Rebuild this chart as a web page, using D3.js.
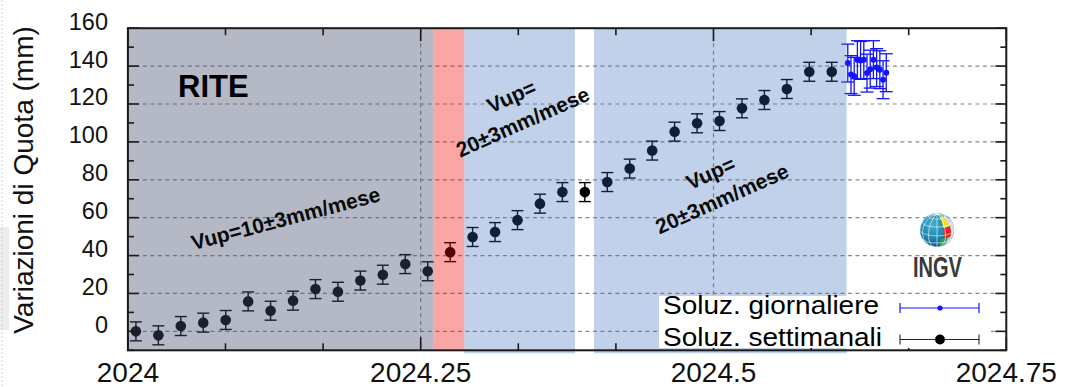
<!DOCTYPE html>
<html>
<head>
<meta charset="utf-8">
<script src="https://cdn.jsdelivr.net/npm/d3@7"></script>
<style>
  html, body { margin: 0; padding: 0; background: #fff; }
  svg { display: block; font-family: "Liberation Sans", Arial, Helvetica, sans-serif; }
</style>
</head>
<body>
<svg id="chart" width="1065" height="387"></svg>
<script>
// ---- GNSS vertical displacement, station RITE ----
const station = "RITE";

// weekly solutions (date, uplift mm, 1-sigma mm)
const weekDates = ["2024-01-03","2024-01-10","2024-01-17","2024-01-24","2024-01-31",
  "2024-02-07","2024-02-14","2024-02-21","2024-02-28","2024-03-06","2024-03-13",
  "2024-03-20","2024-03-27","2024-04-03","2024-04-10","2024-04-17","2024-04-24",
  "2024-05-01","2024-05-08","2024-05-15","2024-05-22","2024-05-29","2024-06-05",
  "2024-06-12","2024-06-19","2024-06-26","2024-07-03","2024-07-10","2024-07-17",
  "2024-07-24","2024-07-31","2024-08-07"];
const weekUp = [0.0, -2.1, 2.8, 4.6, 6.0, 15.8, 10.9, 16.2, 22.3, 20.9, 26.8,
  29.9, 35.5, 31.7, 41.8, 49.8, 52.4, 58.7, 67.4, 73.5, 73.5, 78.8, 85.9,
  95.4, 105.4, 109.8, 111.0, 117.7, 122.1, 127.9, 137.0, 137.0];
const weekErr = [5, 5, 5, 5, 5, 5, 5, 5, 5, 5, 5, 5, 5, 5, 5, 5, 5,
  5, 5, 5, 5, 5, 5, 5, 5, 5, 5, 5, 5, 5, 5, 5];

// daily solutions
const dayDates = ["2024-08-12","2024-08-13","2024-08-14","2024-08-15","2024-08-16",
  "2024-08-17","2024-08-18","2024-08-19","2024-08-20","2024-08-21","2024-08-22",
  "2024-08-23","2024-08-24"];
const dayUp = [141.6, 135.5, 134.6, 143.4, 143.0, 143.4, 136.3, 138.4, 143.4,
  139.2, 138.1, 132.8, 136.5];
const dayErr = [10, 10, 10, 10, 10, 10, 10, 10, 10, 10, 10, 10, 10];

// deformation phases (decimal years)
const phaseFrom = [2024.0000, 2024.2608, 2024.2872, 2024.3980];
const phaseTo   = [2024.2608, 2024.2872, 2024.3817, 2024.6137];
const phaseKind = ["slow", "jump", "fast", "fast"];

// axis ticks
const xTicks = [2024, 2024.25, 2024.5, 2024.75];
const xTickLabels = ["2024", "2024.25", "2024.5", "2024.75"];
const yTicks = [0, 20, 40, 60, 80, 100, 120, 140, 160];

// rate annotations
const rateText = [["Vup=10±3mm/mese"], ["Vup=", "20±3mm/mese"], ["Vup=", "20±3mm/mese"]];
const rateAt = [[2024.1363, 55.9], [2024.3397, 107.0], [2024.5098, 66.5]];

const legendLabels = ["Soluz. giornaliere", "Soluz. settimanali"];

// ---- helpers ----
const dayMs = 86400000;
function decYear(s) {
  const t = Date.parse(s + "T12:00:00Z");
  const y0 = Date.UTC(2024, 0, 1);
  return 2024 + (t - y0) / (365.25 * dayMs);
}
const weekly = weekDates.map((d, i) => ({ t: decYear(d), v: weekUp[i], e: weekErr[i] }));
const daily = dayDates.map((d, i) => ({ t: decYear(d), v: dayUp[i], e: dayErr[i] }));

// ---- layout ----
const L = 127.9, R = 1006.3, T = 28.2, B = 350.3;
const x = d3.scaleLinear().domain([2024, 2024.75]).range([L, R]);
const y = d3.scaleLinear().domain([-10, 160]).range([B, T]);

const svg = d3.select("#chart");

// left page edge
svg.append("rect").attr("x", 0).attr("y", 227).attr("width", 9).attr("height", 103).attr("fill", "#ececec");
svg.append("line").attr("x1", 2).attr("x2", 2).attr("y1", 0).attr("y2", 387)
  .attr("stroke", "#d0d0d0").attr("stroke-width", 1).attr("stroke-dasharray", "2,2");

// grid
const grid = svg.append("g").attr("stroke", "#8a8a8a").attr("stroke-width", 1.2)
  .attr("stroke-dasharray", "4,3.5");
yTicks.filter(v => v < 160).forEach(v => {
  grid.append("line").attr("x1", L).attr("x2", R).attr("y1", y(v)).attr("y2", y(v));
});
xTicks.filter(v => v > 2024 && v < 2024.75).forEach(v => {
  grid.append("line").attr("x1", x(v)).attr("x2", x(v)).attr("y1", T).attr("y2", B);
});

// error bars + markers
function drawSeries(data, color, width, cap, r) {
  const g = svg.append("g");
  const eb = g.selectAll("g.eb").data(data).join("g").attr("stroke", color).attr("stroke-width", width);
  eb.append("line").attr("x1", d => x(d.t)).attr("x2", d => x(d.t))
    .attr("y1", d => y(d.v - d.e)).attr("y2", d => y(d.v + d.e));
  eb.append("line").attr("x1", d => x(d.t) - cap).attr("x2", d => x(d.t) + cap)
    .attr("y1", d => y(d.v + d.e)).attr("y2", d => y(d.v + d.e));
  eb.append("line").attr("x1", d => x(d.t) - cap).attr("x2", d => x(d.t) + cap)
    .attr("y1", d => y(d.v - d.e)).attr("y2", d => y(d.v - d.e));
  g.selectAll("circle").data(data).join("circle")
    .attr("cx", d => x(d.t)).attr("cy", d => y(d.v)).attr("r", r).attr("fill", color);
}
drawSeries(weekly, "#000", 1.4, 6, 5.3);
drawSeries(daily, "#1414ff", 1.3, 6.5, 3);

// translucent phase bands on top of the data
const phaseFill = d3.scaleOrdinal().domain(["slow", "jump", "fast"]).range(["#475170", "#f00000", "#3366bb"]);
const phaseAlpha = d3.scaleOrdinal().domain(["slow", "jump", "fast"]).range([0.4, 0.35, 0.3]);
svg.append("g").selectAll("rect").data(phaseFrom.map((f, i) => ({ f, t: phaseTo[i], k: phaseKind[i] })))
  .join("rect")
  .attr("x", d => x(d.f)).attr("width", d => x(d.t) - x(d.f))
  .attr("y", T).attr("height", d => (d.k === "fast" ? B + 3 : B) - T)
  .attr("fill", d => phaseFill(d.k)).attr("fill-opacity", d => phaseAlpha(d.k));

// frame and ticks (all four sides, inward)
const ax = svg.append("g").attr("stroke", "#1a1a1a");
const months = d3.range(0, 10).map(m => 2024 + m / 12);
months.forEach(m => {
  const major = Math.abs((m - 2024) * 4 - Math.round((m - 2024) * 4)) < 1e-6;
  const len = major ? 13 : 7;
  ax.append("line").attr("x1", x(m)).attr("x2", x(m)).attr("y1", B).attr("y2", B - len).attr("stroke-width", 1.6);
  ax.append("line").attr("x1", x(m)).attr("x2", x(m)).attr("y1", T).attr("y2", T + len).attr("stroke-width", 1.6);
});
d3.range(-10, 161, 10).forEach(v => {
  const len = v % 20 === 0 ? 11 : 6;
  ax.append("line").attr("x1", L).attr("x2", L + len).attr("y1", y(v)).attr("y2", y(v)).attr("stroke-width", 1.6);
  ax.append("line").attr("x1", R).attr("x2", R - len).attr("y1", y(v)).attr("y2", y(v)).attr("stroke-width", 1.6);
});
ax.append("rect").attr("x", L).attr("y", T).attr("width", R - L).attr("height", B - T)
  .attr("fill", "none").attr("stroke-width", 2);

// legend
const lg = svg.append("g");
lg.append("rect").attr("x", 659).attr("y", 296).attr("width", 332).attr("height", 52).attr("fill", "#fff");
const lgRows = [
  { label: legendLabels[0], yb: 313.5, ym: 308, color: "#1414ff", r: 2.6, w: 1.2, len: 216 },
  { label: legendLabels[1], yb: 345.5, ym: 339.5, color: "#222", r: 5, w: 1.1, len: 219 }
];
lgRows.forEach(row => {
  lg.append("text").attr("x", 663).attr("y", row.yb).attr("font-size", 26)
    .attr("textLength", row.len).attr("lengthAdjust", "spacingAndGlyphs")
    .attr("fill", "#000").text(row.label);
  const s = lg.append("g").attr("stroke", row.color).attr("stroke-width", row.w);
  s.append("line").attr("x1", 900).attr("x2", 979).attr("y1", row.ym).attr("y2", row.ym);
  s.append("line").attr("x1", 900).attr("x2", 900).attr("y1", row.ym - 5).attr("y2", row.ym + 5);
  s.append("line").attr("x1", 979).attr("x2", 979).attr("y1", row.ym - 5).attr("y2", row.ym + 5);
  lg.append("circle").attr("cx", 940).attr("cy", row.ym).attr("r", row.r).attr("fill", row.color === "#222" ? "#000" : row.color);
});

// tick labels
svg.append("g").selectAll("text").data(yTicks).join("text")
  .attr("x", 108).attr("y", d => y(d) + 1.5).attr("text-anchor", "end")
  .attr("font-size", 23.5).attr("fill", "#111").text(d => d);
svg.append("g").selectAll("text").data(xTicks).join("text")
  .attr("x", d => x(d)).attr("y", 382).attr("text-anchor", "middle")
  .attr("font-size", 28).attr("fill", "#111").text((d, i) => xTickLabels[i]);

// y axis title
svg.append("text").attr("transform", "translate(33,180) rotate(-90)")
  .attr("text-anchor", "middle").attr("font-size", 28).attr("fill", "#111")
  .text("Variazioni di Quota (mm)");

// station name
svg.append("text").attr("x", 178).attr("y", 97).attr("font-size", 31).attr("font-weight", "bold")
  .attr("fill", "#000").text(station);

// rate annotations
const rateAngle = [-14.7, -24, -24];
rateText.forEach((lines, i) => {
  const g = svg.append("g")
    .attr("transform", `translate(${x(rateAt[i][0])},${y(rateAt[i][1])}) rotate(${rateAngle[i]})`);
  lines.forEach((ln, j) => {
    g.append("text").attr("x", 0).attr("y", (j - (lines.length - 1)) * 28)
      .attr("text-anchor", "middle").attr("font-size", 21).attr("font-weight", "bold")
      .attr("fill", "#0a0a0a").text(ln);
  });
});

// INGV logo: small globe + lettering
const defs = svg.append("defs");
const rg = defs.append("radialGradient").attr("id", "globeFill").attr("cx", "38%").attr("cy", "35%").attr("r", "70%");
rg.append("stop").attr("offset", "0%").attr("stop-color", "#42b0d0");
rg.append("stop").attr("offset", "60%").attr("stop-color", "#1a82ad");
rg.append("stop").attr("offset", "100%").attr("stop-color", "#0b4f78");
const proj = d3.geoOrthographic().scale(17).translate([937, 230]).rotate([0, -20]).clipAngle(90);
const gp = d3.geoPath(proj);
const logo = svg.append("g");
logo.append("path").datum({ type: "Sphere" }).attr("d", gp).attr("fill", "url(#globeFill)");
const patch = (x0, y0, x1, y1) => d3.geoGraticule().extent([[x0, y0], [x1, y1]]).precision(2).outline();
[[patch(58, -45, 89, 65), "#ddd3e6"], [patch(25, 25, 58, 70), "#f2e21c"],
 [patch(25, -12, 58, 25), "#e3262b"], [patch(12, -50, 40, -12), "#2aa14a"],
 [patch(40, -50, 58, -12), "#c9c9d6"]].forEach(([geo, c]) => {
  logo.append("path").datum(geo).attr("d", gp).attr("fill", c);
});
logo.append("path").datum(d3.geoGraticule().step([30, 30])()).attr("d", gp)
  .attr("fill", "none").attr("stroke", "#fff").attr("stroke-width", 0.7).attr("opacity", 0.85);
logo.append("text").attr("x", 937.5).attr("y", 277).attr("text-anchor", "middle")
  .attr("font-size", 30).attr("font-weight", "bold").attr("fill", "#3a3a3a")
  .attr("textLength", 49).attr("lengthAdjust", "spacingAndGlyphs").text("INGV");
</script>
</body>
</html>
